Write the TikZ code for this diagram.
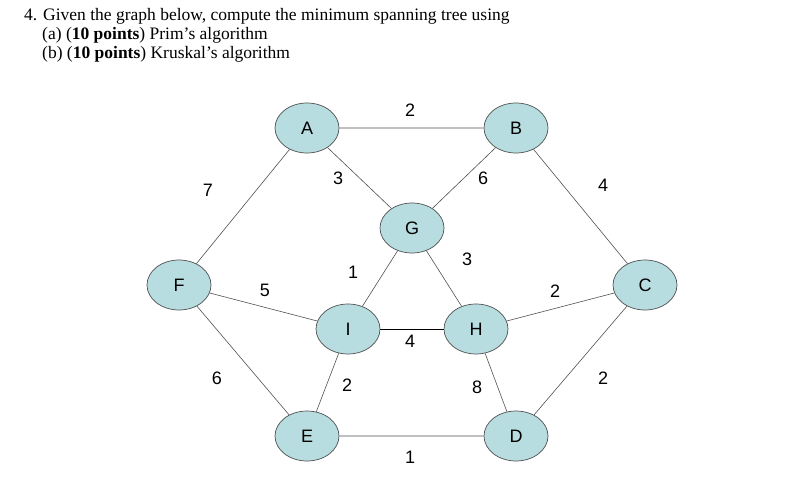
\documentclass[tikz,border=0pt]{standalone}
\usepackage{fontspec}
\setmainfont{Liberation Serif}
\newfontfamily\graphfont{Liberation Sans}
\usetikzlibrary{shapes.geometric}
\definecolor{vertexfill}{RGB}{184,221,225}
\definecolor{edgegray}{RGB}{80,80,80}

\begin{document}
\begin{tikzpicture}[x=1pt,y=-1pt,
	vertex/.style={ellipse,draw=edgegray,line width=0.7pt,fill=vertexfill,minimum width=64pt,minimum height=50pt,inner sep=0pt,font=\graphfont\fontsize{18}{18}\selectfont},
	wt/.style={inner sep=0pt,font=\graphfont\fontsize{18}{18}\selectfont},
	edge/.style={draw=edgegray,line width=0.6pt},
	title/.style={anchor=base west,inner sep=0pt,font=\fontsize{17.5}{19}\selectfont}]
\useasboundingbox(0,0)rectangle(794,497);
% question text
\node[title](q0)at(24,21){4. Given the graph below, compute the minimum spanning tree using};
\node[title](qa)at(42,40){(a) (\textbf{10 points}) Prim's algorithm};
\node[title](qb)at(42,59){(b) (\textbf{10 points}) Kruskal's algorithm};
% vertices
\node[vertex](A)at(307,128){A};
\node[vertex](B)at(516,128){B};
\node[vertex](G)at(412,228){G};
\node[vertex](F)at(179,285){F};
\node[vertex](C)at(645,285){C};
\node[vertex](I)at(348,329){I};
\node[vertex](H)at(476,329){H};
\node[vertex](E)at(307,436){E};
\node[vertex](D)at(516,436){D};
% edges
\draw[edge](A)--(B) (A)--(F) (A)--(G) (B)--(G) (B)--(C)
	(G)--(I) (G)--(H) (F)--(I) (F)--(E) (I)--(E)
	(H)--(C) (H)--(D) (C)--(D) (E)--(D);
\draw[line width=1pt](I)--(H);
% weights
\node[wt](wAB)at(410,110){2};
\node[wt](wAF)at(208,190){7};
\node[wt](wAG)at(338,178){3};
\node[wt](wBG)at(483,178){6};
\node[wt](wBC)at(603,185){4};
\node[wt](wGI)at(353,272){1};
\node[wt](wGH)at(467,259){3};
\node[wt](wFI)at(265,290){5};
\node[wt](wHC)at(555,291){2};
\node[wt](wIH)at(410,341){4};
\node[wt](wFE)at(217,378){6};
\node[wt](wIE)at(347,385){2};
\node[wt](wHD)at(477,387){8};
\node[wt](wCD)at(603,378){2};
\node[wt](wED)at(410,457){1};
\end{tikzpicture}
\end{document}
